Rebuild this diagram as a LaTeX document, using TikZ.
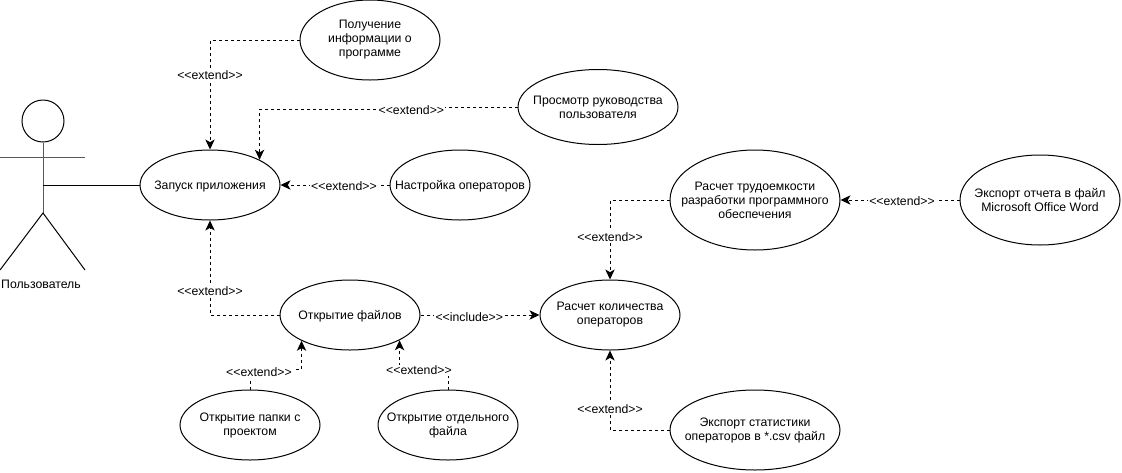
\documentclass[tikz,border=0pt]{standalone}
\usepackage{fontspec}
\setmainfont{Liberation Sans}
\usetikzlibrary{arrows.meta, shapes.geometric}
\tikzset{
	usecase/.style={draw, ellipse, align=center, inner sep=-25pt, minimum width=105pt, minimum height=52.5pt, execute at begin node={\rule{0pt}{8.5pt}}},
	extendline/.style={line width=.75pt, dash pattern=on 2.25pt off 2.25pt, arrows={-Stealth[length=7.5pt, width=7pt, inset=2pt]}},
	stereo/.style={fill=white, inner sep=1pt, yshift=-.75pt},
	every node/.style={font=\fontsize{9.2}{10.5}\selectfont}
}

\begin{document}
\begin{tikzpicture}[x=.75pt, y=-.75pt, line width=.75pt]
	\useasboundingbox (0, 0) rectangle (1122, 472);

	% actor
	\node[draw, circle, minimum size=31.5pt, inner sep=0pt] (head) at (43, 121) {};
	\coordinate (hip) at (43, 213);
	\coordinate (hand) at (43, 185);
	\coordinate (armleft) at (0, 157);
	\coordinate (armright) at (85, 157);
	\coordinate (footleft) at (0, 270);
	\coordinate (footright) at (85, 270);
	\draw[black!65] (head.south) -- (hip);
	\draw[black!65] (armleft) -- (armright);
	\draw (footleft) -- (hip) -- (footright);
	\node (user) at (41, 284) {Пользователь};

	% use cases
	\node[usecase] (start) at (210, 185) {Запуск приложения};
	\node[usecase, minimum height=60pt] (about) at (370, 40) {Получение\\информации о\\программе};
	\node[usecase, minimum width=120pt, minimum height=56.25pt] (manual) at (598, 107) {Просмотр руководства\\пользователя};
	\node[usecase] (settings) at (460, 185) {Настройка операторов};
	\node[usecase] (files) at (350, 315) {Открытие файлов};
	\node[usecase] (folder) at (250, 425) {Открытие папки с\\проектом};
	\node[usecase] (single) at (448, 425) {Открытие отдельного\\файла};
	\node[usecase] (count) at (610, 315) {Расчет количества\\операторов};
	\node[usecase, minimum width=127.5pt, minimum height=60pt] (csv) at (755, 430) {Экспорт статистики\\операторов в *.csv файл};
	\node[usecase, minimum width=127.5pt, minimum height=75pt] (labor) at (755, 200) {Расчет трудоемкости\\разработки программного\\обеспечения};
	\node[usecase, minimum width=120pt, minimum height=67.5pt] (word) at (1040, 200) {Экспорт отчета в файл\\Microsoft Office Word};

	% links
	\draw (hand) -- (start.west);
	\draw[extendline] (about.west) -| (start.north) node[stereo, pos=.655] (l1) {<{}<extend>{}>};
	\draw[extendline] (manual.west) -- ++(-90, 0) -- ++(0, 2) -| (start.27) node[stereo, pos=.048] (l2) {<{}<extend>{}>};
	\draw[extendline] (settings.west) -- (start.east) node[stereo, pos=.418] (l3) {<{}<extend>{}>};
	\draw[extendline] (files.west) -| (start.south) node[stereo, pos=.63] (l4) {<{}<extend>{}>};
	\draw[extendline] (folder.north) -- ++(0, -20) -| (files.208) node[stereo, pos=.087, yshift=-1.5pt] (l5) {<{}<extend>{}>};
	\draw[extendline] (single.north) -- ++(0, -20) -| (files.333) node[stereo, pos=.3] (l6) {<{}<extend>{}>};
	\draw[extendline] (files.east) -- (count.west) node[stereo, pos=.41, yshift=-.75pt] (l7) {<{}<include>{}>};
	\draw[extendline] (csv.west) -| (count.south) node[stereo, pos=.64] (l8) {<{}<extend>{}>};
	\draw[extendline] (labor.west) -| (count.north) node[stereo, pos=.725] (l9) {<{}<extend>{}>};
	\draw[extendline] (word.west) -- (labor.east) node[stereo, pos=.483] (l10) {<{}<extend>{}>};
\end{tikzpicture}
\end{document}
